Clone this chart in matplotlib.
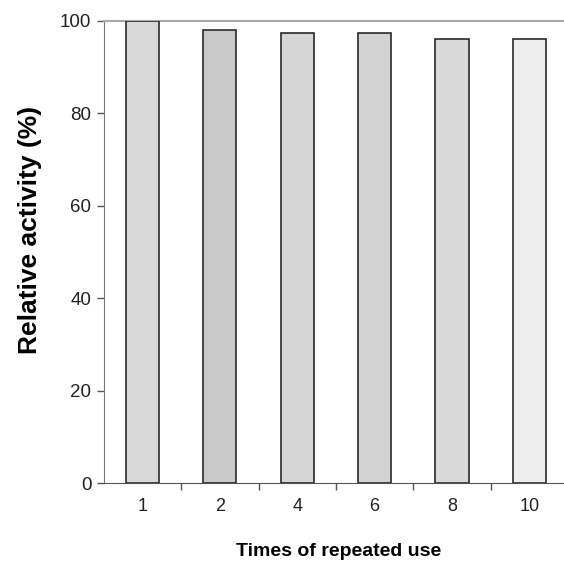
import matplotlib
matplotlib.use("Agg")
import matplotlib.pyplot as plt
import numpy as np

plt.rcParams['font.family'] = ['Liberation Sans', 'DejaVu Sans']

categories = ['1', '2', '4', '6', '8', '10']
activity = [100.0, 98.0, 97.4, 97.4, 96.0, 96.0]
bar_colors = ['#d9d9d9', '#c9c9c9', '#d6d6d6', '#d3d3d3', '#d9d9d9', '#eeeeee']

fig = plt.figure(figsize=(5.64, 5.65), dpi=100)
ax = fig.add_axes([0.184, 0.145, 0.823, 0.818])

x = np.arange(len(categories))
ax.bar(x, activity, width=0.43, color=bar_colors, edgecolor='#2a2a2a', linewidth=1.2, zorder=3)

ax.set_xlim(-0.5, len(categories) - 0.5)
ax.set_ylim(0, 100)
ax.set_yticks([0, 20, 40, 60, 80, 100])
ax.set_xticks(x)
ax.set_xticklabels(categories)
ax.set_xticks(np.arange(0.5, len(categories) - 0.5, 1), minor=True)
ax.tick_params(axis='x', which='major', length=0, pad=11, labelsize=13, colors='#222222')
ax.tick_params(axis='x', which='minor', length=5, width=1, color='#555555')
ax.tick_params(axis='y', length=5, width=1, color='#555555', labelsize=13.5, pad=4, labelcolor='#222222')

ax.spines['right'].set_visible(False)
ax.spines['top'].set_color('#a8a8a8')
ax.spines['top'].set_linewidth(1.5)
ax.spines['left'].set_color('#777777')
ax.spines['bottom'].set_color('#555555')

ax.set_ylabel('Relative activity (%)', fontsize=19, fontweight='bold')
ax.yaxis.set_label_coords(-0.133, 0.548)
ax.set_xlabel('Times of repeated use', fontsize=14, fontweight='bold')
ax.xaxis.set_label_coords(0.505, -0.13)

fig.savefig('out.png', dpi=100)
